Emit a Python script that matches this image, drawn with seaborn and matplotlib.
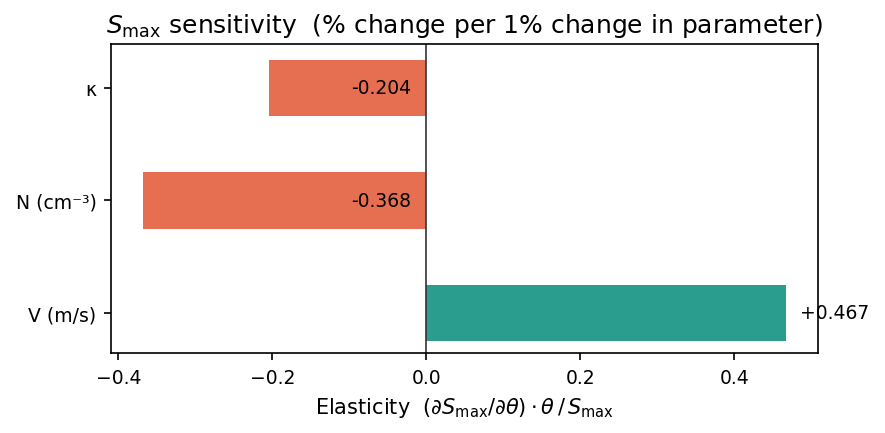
import numpy as np
import pandas as pd
import matplotlib
matplotlib.use("Agg")
import matplotlib.pyplot as plt
import seaborn as sns

# elasticities
params = ["κ", "N (cm⁻³)", "V (m/s)"]
elasticity = [-0.204, -0.368, 0.467]

df = pd.DataFrame({"param": params, "elast": elasticity})
df["sign"] = np.where(df["elast"] < 0, "neg", "pos")
palette = {"neg": "#E76F51", "pos": "#2A9D8F"}

fig, ax = plt.subplots(figsize=(5.9, 2.893), dpi=150)
sns.barplot(data=df, x="elast", y="param", hue="sign", palette=palette,
            order=params, orient="h", width=0.5, dodge=False,
            legend=False, saturation=1, ax=ax)
ax.axvline(0, color="#333333", lw=0.8)

# value labels
for i, v in enumerate(elasticity):
    if v < 0:
        ax.text(-0.02, i, f"{v:.3f}", va="center", ha="right", fontsize=9)
    else:
        ax.text(v + 0.018, i, f"+{v:.3f}", va="center", ha="left", fontsize=9)

ax.set_ylim(2.356, -0.39)
ax.tick_params(axis="both", labelsize=9)
ax.set_ylabel("")
ax.set_xlabel(r"Elasticity  $(\partial S_{\max}/\partial\theta)\cdot\theta\,/\,S_{\max}$")
ax.set_title(r"$S_{\max}$ sensitivity  (% change per 1% change in parameter)")

fig.subplots_adjust(left=0.1254, right=0.9243, top=0.8963, bottom=0.1843)
plt.savefig("out.png", dpi=150)
